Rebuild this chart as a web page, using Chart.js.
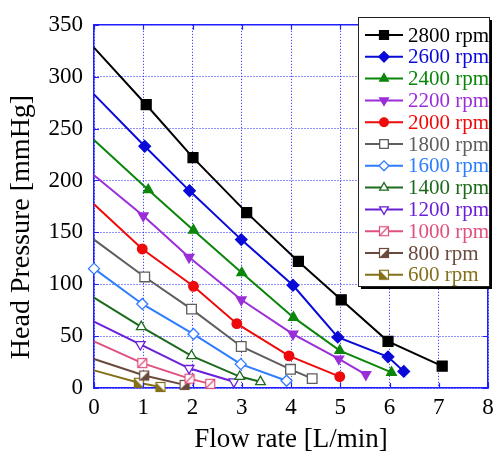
<!DOCTYPE html>
<html>
<head>
<meta charset="utf-8">
<script src="https://cdn.jsdelivr.net/npm/chart.js@4/dist/chart.umd.min.js"></script>
<style>
  html, body { margin: 0; padding: 0; background: #fff; }
</style>
</head>
<body>
<canvas id="chart" width="500" height="456"></canvas>
<script>
// series labels and colours
const rpmLabels = ['2800 rpm', '2600 rpm', '2400 rpm', '2200 rpm', '2000 rpm', '1800 rpm',
                   '1600 rpm', '1400 rpm', '1200 rpm', '1000 rpm', '800 rpm', '600 rpm'];
const rpmColors = ['#000000', '#0a0ad8', '#0b860b', '#9b2ed8', '#ee0a0a', '#5e5e5e',
                   '#2f7dff', '#1d6a1d', '#6a1fd8', '#e0507c', '#6a4a3c', '#85701a'];

// flow rate [L/min] per series
const flow2800 = [0, 1.06, 2.01, 3.10, 4.15, 5.02, 5.97, 7.07];
const flow2600 = [0, 1.03, 1.94, 2.99, 4.04, 4.95, 5.97, 6.29];
const flow2400 = [0, 1.10, 2.02, 3.00, 4.05, 4.99, 6.04];
const flow2200 = [0, 1.00, 1.93, 2.99, 4.04, 4.97, 5.52];
const flow2000 = [0, 0.98, 2.02, 2.90, 3.96, 4.99];
const flow1800 = [0, 1.03, 1.98, 2.99, 3.99, 4.43];
const flow1600 = [0, 0.98, 2.02, 2.98, 3.91];
const flow1400 = [0, 0.96, 1.98, 2.96, 3.38];
const flow1200 = [0, 0.94, 1.93, 2.84];
const flow1000 = [0, 0.98, 1.94, 2.36];
const flow800  = [0, 1.02, 1.84];
const flow600  = [0, 0.91, 1.35];

// head pressure [mmHg] per series
const head2800 = [328, 273, 222, 169, 122, 85, 45, 21];
const head2600 = [283, 233, 190, 143, 99, 49, 30, 16];
const head2400 = [239, 191, 152, 111, 68, 36, 15];
const head2200 = [205, 166, 126, 85, 52, 28, 13];
const head2000 = [177, 134, 98, 62, 31, 11];
const head1800 = [143, 107, 76, 40, 18, 9];
const head1600 = [115, 81, 52, 23, 7];
const head1400 = [87, 59, 31, 11, 6];
const head1200 = [64, 42, 19, 6];
const head1000 = [45, 24, 9, 4];
const head800  = [28, 12, 3];
const head600  = [17, 5, 1];

const flows = [flow2800, flow2600, flow2400, flow2200, flow2000, flow1800,
               flow1600, flow1400, flow1200, flow1000, flow800, flow600];
const heads = [head2800, head2600, head2400, head2200, head2000, head1800,
               head1600, head1400, head1200, head1000, head800, head600];

const xTicks = [0, 1, 2, 3, 4, 5, 6, 7, 8];
const yTicks = [0, 50, 100, 150, 200, 250, 300, 350];
const yTitle = 'Head Pressure [mmHg]';

const FONT = '"Liberation Serif", "Times New Roman", serif';
const GRID = '#1f1fff';

// small canvas markers: square with a diagonal, optionally half filled
function squareMark(color, half) {
  const c = document.createElement('canvas');
  c.width = 12; c.height = 12;
  const g = c.getContext('2d');
  g.fillStyle = '#fff';
  g.fillRect(1.5, 1.5, 9, 9);
  g.fillStyle = color;
  if (half) {
    g.beginPath();
    if (half === 'lr') {          // lower right filled
      g.moveTo(1.5, 10.5); g.lineTo(10.5, 1.5); g.lineTo(10.5, 10.5);
    } else {                      // lower left filled
      g.moveTo(1.5, 1.5); g.lineTo(10.5, 10.5); g.lineTo(1.5, 10.5);
    }
    g.closePath();
    g.fill();
  }
  g.strokeStyle = color;
  g.lineWidth = 1.2;
  g.strokeRect(1.5, 1.5, 9, 9);
  if (!half) {
    g.beginPath(); g.moveTo(2, 10); g.lineTo(10, 2); g.stroke();
  }
  return c;
}

// marker style per series
const markers = [
  { style: 'rect', r: 7, fill: true },
  { style: 'rectRot', r: 5.8, fill: true },
  { style: 'triangle', r: 5.6, fill: true },
  { style: 'triangle', r: 5.6, fill: true, rot: 180 },
  { style: 'circle', r: 4.8, fill: true },
  { style: 'rect', r: 6.8, fill: false },
  { style: 'rectRot', r: 5.5, fill: false },
  { style: 'triangle', r: 5.6, fill: false },
  { style: 'triangle', r: 5.6, fill: false, rot: 180 },
  { style: squareMark(rpmColors[9], null), r: 6 },
  { style: squareMark(rpmColors[10], 'lr'), r: 6 },
  { style: squareMark(rpmColors[11], 'll'), r: 6 }
];

const datasets = rpmLabels.map((label, i) => {
  const m = markers[i];
  return {
    label,
    data: flows[i].map((x, j) => ({ x, y: heads[i][j] })),
    borderColor: rpmColors[i],
    backgroundColor: m.fill ? rpmColors[i] : '#ffffff',
    pointBackgroundColor: m.fill ? rpmColors[i] : '#ffffff',
    pointBorderColor: rpmColors[i],
    borderWidth: 2,
    pointBorderWidth: 1.3,
    pointStyle: m.style,
    pointRotation: m.rot || 0,
    // the first point at zero flow has no marker, except for 1600 rpm
    pointRadius: ctx => (ctx.dataIndex === 0 && i !== 6) ? 0 : m.r,
    clip: false,
    order: i
  };
});

// short solid tick marks pointing into the plot, y title, boxed legend
const decorations = {
  id: 'decorations',
  afterDatasetsDraw(chart) {
    const { ctx, chartArea: a, scales } = chart;
    ctx.save();
    ctx.strokeStyle = GRID;
    ctx.lineWidth = 1.2;
    ctx.beginPath();
    xTicks.forEach(v => {
      const px = Math.round(scales.x.getPixelForValue(v)) + 0.5;
      ctx.moveTo(px, a.bottom); ctx.lineTo(px, a.bottom - 5);
      ctx.moveTo(px, a.top); ctx.lineTo(px, a.top + 5);
    });
    yTicks.forEach(v => {
      const py = Math.round(scales.y.getPixelForValue(v)) + 0.5;
      ctx.moveTo(a.left, py); ctx.lineTo(a.left + 5, py);
      ctx.moveTo(a.right, py); ctx.lineTo(a.right - 5, py);
    });
    ctx.stroke();

    // y axis title, sitting a little below the centre of the plot
    ctx.fillStyle = '#000';
    ctx.font = '28px ' + FONT;
    ctx.textAlign = 'center';
    ctx.textBaseline = 'middle';
    ctx.translate(22, 227);
    ctx.rotate(-Math.PI / 2);
    ctx.fillText(yTitle, 0, 0);
    ctx.restore();
  },
  afterDraw(chart) {
    const ctx = chart.ctx;
    const left = 358, top = 17, w = 131, h = 269;
    ctx.save();
    ctx.fillStyle = '#000';
    ctx.fillRect(left + 3, top + 3, w, h);
    ctx.fillStyle = '#fff';
    ctx.fillRect(left, top, w, h);
    ctx.strokeStyle = '#222';
    ctx.lineWidth = 1;
    ctx.strokeRect(left + 0.5, top + 0.5, w, h);
    ctx.font = '21px ' + FONT;
    ctx.textBaseline = 'middle';
    datasets.forEach((ds, i) => {
      const y = top + 18 + i * 21.8;
      const m = markers[i];
      ctx.strokeStyle = rpmColors[i];
      ctx.lineWidth = 2;
      ctx.beginPath();
      ctx.moveTo(left + 7, y);
      ctx.lineTo(left + 45, y);
      ctx.stroke();
      ctx.fillStyle = m.fill ? rpmColors[i] : '#fff';
      ctx.lineWidth = 1.3;
      Chart.helpers.drawPoint(ctx, { pointStyle: m.style, rotation: m.rot || 0, radius: m.r * 0.9, borderWidth: 1.3 }, left + 26, y);
      ctx.fillStyle = rpmColors[i];
      ctx.fillText(ds.label, left + 50, y + 1);
    });
    ctx.restore();
  }
};

new Chart(document.getElementById('chart'), {
  type: 'line',
  data: { datasets },
  options: {
    responsive: false,
    animation: false,
    layout: { padding: { left: 0, right: 12, top: 19, bottom: 0 } },
    plugins: { legend: { display: false }, tooltip: { enabled: false } },
    scales: {
      x: {
        type: 'linear', min: 0, max: 8,
        afterBuildTicks: s => { s.ticks = xTicks.map(v => ({ value: v })); },
        afterFit: s => { s.height = 68; },
        grid: { color: GRID, lineWidth: 1, drawTicks: false },
        border: { color: GRID, width: 1.5, dash: [1, 2] },
        ticks: { color: '#000', font: { family: FONT, size: 23 }, padding: 6, maxRotation: 0 },
        title: { display: true, text: 'Flow rate [L/min]', color: '#000', font: { family: FONT, size: 27 }, padding: { top: 0, bottom: 0 } }
      },
      y: {
        type: 'linear', min: 0, max: 350,
        afterBuildTicks: s => { s.ticks = yTicks.map(v => ({ value: v })); },
        afterFit: s => { s.width = 94; },
        grid: { color: GRID, lineWidth: 1, drawTicks: false },
        border: { color: GRID, width: 1.5, dash: [1, 2] },
        ticks: { color: '#000', font: { family: FONT, size: 23 }, padding: 11 }
      },
      xTop: {
        type: 'linear', position: 'top', min: 0, max: 8,
        ticks: { display: false }, grid: { display: false, drawTicks: false },
        border: { color: GRID, width: 1.5 }
      },
      yRight: {
        type: 'linear', position: 'right', min: 0, max: 350,
        ticks: { display: false }, grid: { display: false, drawTicks: false },
        border: { color: GRID, width: 1.5 }
      }
    }
  },
  plugins: [decorations]
});
</script>
</body>
</html>
